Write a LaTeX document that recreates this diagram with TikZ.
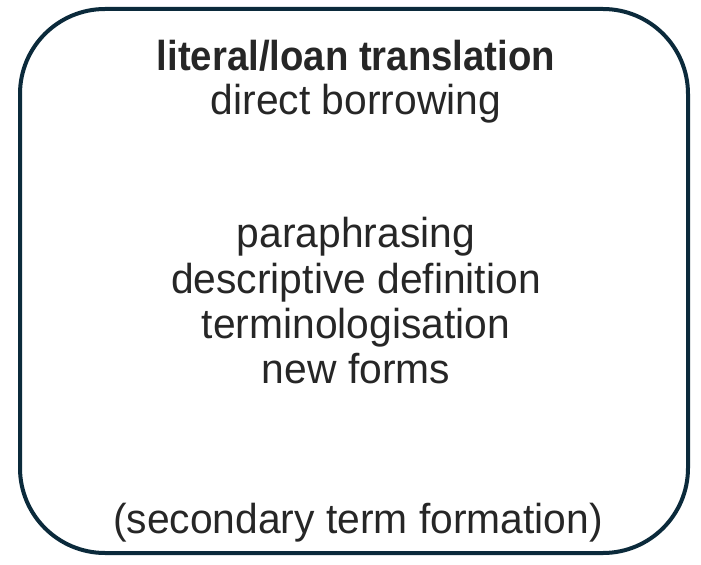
\documentclass[tikz,border=0pt]{standalone}
\usepackage{fontspec}
\setmainfont{Liberation Sans}
\definecolor{frame}{HTML}{0B2A3B}
\definecolor{ink}{HTML}{262626}
\begin{document}
\begin{tikzpicture}[x=1bp,y=-1bp,
  txt/.style={text=ink,font=\fontsize{42}{48}\selectfont,anchor=base,inner sep=0pt,xscale=0.975},
  head/.style={txt,font=\fontsize{42}{48}\selectfont\bfseries,xscale=0.94},
  boxline/.style={draw=frame,line width=4bp,rounded corners=85bp}]
\useasboundingbox (0,0) rectangle (701,565);
\draw[boxline] (20,9) rectangle (688,553);
\node[head] (t1) at (356,71) {literal/loan translation};
\node[txt] (t2) at (356,115) {direct borrowing};
\node[txt] (t3) at (356,247) {paraphrasing};
\node[txt] (t4) at (356,293) {descriptive definition};
\node[txt] (t5) at (356,338) {terminologisation};
\node[txt] (t6) at (356,383) {new forms};
\node[txt] (t7) at (358,533) {(secondary term formation)};
\end{tikzpicture}
\end{document}
